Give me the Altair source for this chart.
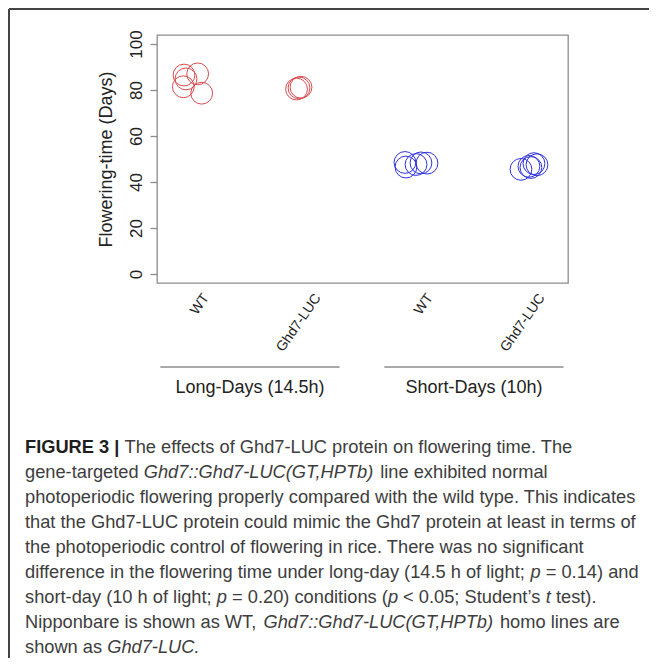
import json
import altair as alt
import pandas as pd

# ---------------- data ----------------
categories = ["WT", "Ghd7-LUC", "WT", "Ghd7-LUC"]
category_pos = [1, 2, 3, 4]

groups = ["Long-Days (14.5h)", "Short-Days (10h)"]
group_start = [0.73, 2.73]
group_end = [2.33, 4.33]

ld_wt_x = [0.941, 1.063, 0.935, 1.099, 0.959]
ld_wt_days = [86.5, 87.0, 81.4, 78.6, 84.8]
ld_luc_x = [1.946, 1.968, 1.986]
ld_luc_days = [80.4, 80.9, 81.2]
sd_wt_x = [2.914, 2.923, 3.013, 3.057, 3.111]
sd_wt_days = [48.5, 46.5, 47.6, 48.3, 48.2]
sd_luc_x = [3.950, 4.021, 4.066, 4.093, 4.039]
sd_luc_days = [45.5, 46.8, 48.0, 47.5, 46.3]

y_ticks = [0, 20, 40, 60, 80, 100]

caption_lines = [
    [("FIGURE 3 |", "bold"), (" The effects of Ghd7-LUC protein on flowering time. The", "normal")],
    [("gene-targeted ", "normal"), ("Ghd7::Ghd7-LUC(GT,HPTb)", "italic"), (" line exhibited normal", "normal")],
    [("photoperiodic flowering properly compared with the wild type. This indicates", "normal")],
    [("that the Ghd7-LUC protein could mimic the Ghd7 protein at least in terms of", "normal")],
    [("the photoperiodic control of flowering in rice. There was no significant", "normal")],
    [("difference in the flowering time under long-day (14.5 h of light; ", "normal"), ("p", "italic"),
     (" = 0.14) and", "normal")],
    [("short-day (10 h of light; ", "normal"), ("p", "italic"), (" = 0.20) conditions (", "normal"),
     ("p", "italic"), (" < 0.05; Student\u2019s ", "normal"), ("t", "italic"), (" test).", "normal")],
    [("Nipponbare is shown as WT, ", "normal"), ("Ghd7::Ghd7-LUC(GT,HPTb)", "italic"),
     (" homo lines are", "normal")],
    [("shown as ", "normal"), ("Ghd7-LUC.", "italic")],
]

# ---------------- layout ----------------
W, H = 411, 248
PAD_L, PAD_T = 149, 27
PAD_R = 657 - 16 - PAD_L - W
PAD_B = 666 - 16 - PAD_T - H
PX0, PY0 = 8 + PAD_L, 8 + PAD_T
FONT = "Liberation Sans"

rows = []
for xs, ys, c in [(ld_wt_x, ld_wt_days, "LD"), (ld_luc_x, ld_luc_days, "LD"),
                  (sd_wt_x, sd_wt_days, "SD"), (sd_luc_x, sd_luc_days, "SD")]:
    for xv, yv in zip(xs, ys):
        rows.append({"x": xv, "days": yv, "cond": c})
df = pd.DataFrame(rows)

gdf = pd.DataFrame({"group": groups, "start": group_start, "end": group_end})
gdf["mid"] = (gdf["start"] + gdf["end"]) / 2

xscale = alt.Scale(domain=[0.7, 4.37], nice=False, zero=False)
yscale = alt.Scale(domain=[-3.9, 103.9], nice=False, zero=False)
label_expr = f"{json.dumps(categories)}[datum.value - 1]"
xaxis = alt.Axis(values=category_pos, labelExpr=label_expr, title=None, domain=False, ticks=False,
                 grid=False, labelAngle=305, labelAlign="right", labelBaseline="middle",
                 labelPadding=12, labelOffset=15, labelFont=FONT, labelFontSize=14,
                 labelColor="#222222")
yaxis = alt.Axis(values=y_ticks, title="Flowering-time (Days)", titleFont=FONT, titleFontSize=18,
                 titleFontWeight="normal", titleColor="#222222", titlePadding=12,
                 labelAngle=270, labelAlign="center", labelBaseline="bottom", labelFont=FONT,
                 labelFontSize=17, labelColor="#222222", labelPadding=5, tickSize=7,
                 tickColor="#8c8c8c", tickWidth=1.3, domain=False, grid=False)

points = alt.Chart(df).mark_point(shape="circle", filled=False, size=475, strokeWidth=1,
                                  opacity=1).encode(
    x=alt.X("x:Q", scale=xscale, axis=xaxis),
    y=alt.Y("days:Q", scale=yscale, axis=yaxis),
    color=alt.Color("cond:N", scale=alt.Scale(domain=["LD", "SD"], range=["#d84c4f", "#2f33d8"]),
                    legend=None),
)

group_rules = alt.Chart(gdf).mark_rule(color="#8c8c8c", strokeWidth=1.3).encode(
    x=alt.X("start:Q", scale=xscale, axis=xaxis), x2="end:Q", y=alt.value(367 - PY0))
group_text = alt.Chart(gdf).mark_text(font=FONT, fontSize=18, color="#222222",
                                      baseline="middle").encode(
    x=alt.X("mid:Q", scale=xscale, axis=xaxis), y=alt.value(388 - PY0), text="group:N")

one = pd.DataFrame({"a": [0]})
border_top = alt.Chart(one).mark_rule(color="#444444", strokeWidth=2).encode(
    x=alt.value(-PAD_L + 1), x2=alt.value(W + PAD_R), y=alt.value(-PAD_T + 1))
border_left = alt.Chart(one).mark_rule(color="#444444", strokeWidth=2).encode(
    x=alt.value(-PAD_L + 1), y=alt.value(-PAD_T + 1), y2=alt.value(H + PAD_B))

# Arial / Liberation Sans advance widths (1/1000 em) used to place caption segments
REG = {" ": 278, "!": 278, "(": 333, ")": 333, ",": 278, "-": 333, ".": 278, "/": 278, ":": 278,
       ";": 278, "<": 584, "=": 584, ">": 584, "|": 260, "\u2019": 222}
for ch in "0123456789":
    REG[ch] = 556
REG.update(dict(zip("ABCDEFGHIJKLMNOPQRSTUVWXYZ",
                    [667, 667, 722, 722, 667, 611, 778, 722, 278, 500, 667, 556, 833, 722, 778,
                     667, 778, 722, 667, 611, 722, 667, 944, 667, 667, 611])))
REG.update(dict(zip("abcdefghijklmnopqrstuvwxyz",
                    [556, 556, 500, 556, 556, 278, 556, 556, 222, 222, 500, 222, 833, 556, 556,
                     556, 556, 333, 500, 278, 556, 500, 722, 500, 500, 500])))
BOLD = dict(REG)
BOLD.update({"|": 280, "R": 722, "G": 778})


def em(text, style):
    table = BOLD if style == "bold" else REG
    return sum(table.get(ch, 556) for ch in text) / 1000.0


CAP_X0, CAP_X1 = 25, 636
CAP_Y0, CAP_DY = 448, 25
cap_fs = (CAP_X1 - CAP_X0) / em(caption_lines[2][0][0], "normal")

caption_layers = []
for i, line in enumerate(caption_lines):
    cur = 0.0
    for text, style in line:
        lead = len(text) - len(text.lstrip(" "))
        xpos = CAP_X0 + (cur + em(" " * lead, style)) * cap_fs - PX0
        cur += em(text, style)
        kw = dict(font=FONT, fontSize=cap_fs, align="left", baseline="middle",
                  x=xpos, y=CAP_Y0 + i * CAP_DY - PY0)
        if style == "bold":
            kw.update(fontWeight="bold", color="#1e1e1e")
        elif style == "italic":
            kw.update(fontStyle="italic", color="#3d3d3d")
        else:
            kw.update(color="#3d3d3d")
        caption_layers.append(
            alt.Chart(pd.DataFrame({"t": [text.strip()]})).mark_text(**kw).encode(text="t:N"))

chart = alt.layer(points, group_rules, group_text, border_top, border_left, *caption_layers).properties(
    width=W, height=H,
    padding={"left": PAD_L, "top": PAD_T, "right": PAD_R, "bottom": PAD_B},
    autosize=alt.AutoSizeParams(type="none"),
    background="white",
).configure_view(stroke="#8c8c8c", strokeWidth=1.3)

chart.save("out.html", embed_options={"renderer": "svg", "actions": False})
